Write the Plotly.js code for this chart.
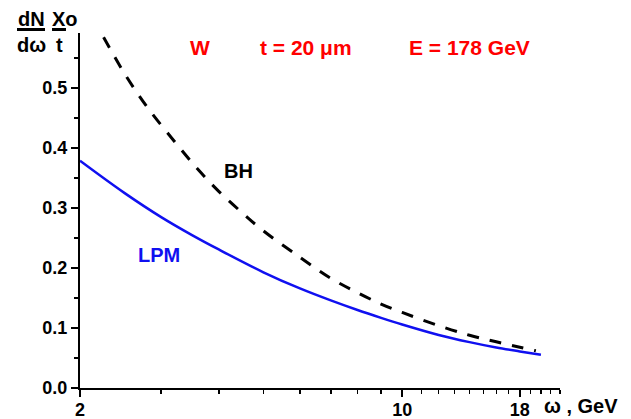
<!DOCTYPE html>
<html>
<head>
<meta charset="utf-8">
<script src="https://cdn.plot.ly/plotly-3.0.1.min.js"></script>
<style>html,body{margin:0;padding:0;background:#fff;}#chart{width:631px;height:419px;}</style>
</head>
<body>
<div id="chart"></div>
<script>
// ω, GeV
const omegaLPM = [2, 2.5, 3, 3.5, 4, 5, 6, 7, 8, 9, 10, 12, 14, 16, 18, 20];
const valLPM   = [0.379, 0.325, 0.285, 0.255, 0.231, 0.193, 0.166, 0.146, 0.130, 0.117, 0.106, 0.0885, 0.0765, 0.0675, 0.061, 0.0555];
const omegaBH  = [2.25, 2.5, 2.8, 3.2, 3.6, 4, 4.5, 5, 6, 7, 8, 9, 10, 12, 14, 16, 18, 19.5];
const valBH    = [0.585, 0.524, 0.468, 0.412, 0.365, 0.328, 0.292, 0.262, 0.218, 0.183, 0.159, 0.140, 0.126, 0.104, 0.088, 0.077, 0.068, 0.062];
const xTickVals = [2, 10, 18];
const xTickText = ['2', '10', '18'];
const xMinorVals = [3,4,5,6,7,8,9,11,12,13,14,15,16,17,19,20,21,22];
const yTickVals = [0, 0.1, 0.2, 0.3, 0.4, 0.5];

const FONT = 'Arial, "Liberation Sans", sans-serif';

const traces = [
  {x: omegaBH, y: valBH, mode: 'lines', type: 'scatter',
   line: {color: '#000000', width: 3, dash: '12px,11px', shape: 'spline'}, hoverinfo: 'skip'},
  {x: omegaLPM, y: valLPM, mode: 'lines', type: 'scatter',
   line: {color: '#1010f0', width: 2.5, shape: 'spline'}, hoverinfo: 'skip'}
];

const layout = {
  width: 631, height: 419,
  margin: {l: 80, r: 71, t: 33, b: 31, pad: 0},
  paper_bgcolor: '#ffffff', plot_bgcolor: '#ffffff',
  showlegend: false,
  font: {family: FONT, size: 18, color: '#000'},
  xaxis: {
    type: 'log', range: [Math.log10(2), Math.log10(22)],
    tickmode: 'array', tickvals: xTickVals, ticktext: xTickText,
    ticks: 'outside', ticklen: 7, tickwidth: 2, tickcolor: '#000',
    ticklabelstandoff: -3,
    minor: {tickmode: 'array', tickvals: xMinorVals, ticks: 'outside', ticklen: 4, tickwidth: 1.5, tickcolor: '#000', showgrid: false},
    showline: true, linecolor: '#000', linewidth: 2, mirror: false,
    showgrid: false, zeroline: false,
    tickfont: {family: FONT, size: 18, color: '#000', weight: 'bold'}
  },
  yaxis: {
    range: [0, 0.592],
    tickmode: 'array', tickvals: yTickVals, tickformat: '.1f',
    ticks: 'outside', ticklen: 7, tickwidth: 2, tickcolor: '#000',
    minor: {dtick: 0.05, ticks: 'outside', ticklen: 4, tickwidth: 1.5, tickcolor: '#000', showgrid: false},
    showline: true, linecolor: '#000', linewidth: 2, mirror: false,
    showgrid: false, zeroline: false,
    tickfont: {family: FONT, size: 18, color: '#000', weight: 'bold'}
  },
  shapes: [
    {type: 'line', xref: 'paper', yref: 'paper', x0: -0.1313, x1: -0.0729, y0: 1.0099, y1: 1.0099,
     line: {color: '#000', width: 3}},
    {type: 'line', xref: 'paper', yref: 'paper', x0: -0.0583, x1: -0.0292, y0: 1.0099, y1: 1.0099,
     line: {color: '#000', width: 3}}
  ],
  annotations: [
    {xref: 'paper', yref: 'paper', x: 0.251, y: 0.958, text: 'W', showarrow: false,
     font: {family: FONT, size: 21, color: '#ff0000', weight: 'bold'}, xanchor: 'center', yanchor: 'middle'},
    {xref: 'paper', yref: 'paper', x: 0.471, y: 0.958, text: 't = 20 \u03bcm', showarrow: false,
     font: {family: FONT, size: 21, color: '#ff0000', weight: 'bold'}, xanchor: 'center', yanchor: 'middle'},
    {xref: 'paper', yref: 'paper', x: 0.812, y: 0.958, text: 'E = 178 GeV', showarrow: false,
     font: {family: FONT, size: 21, color: '#ff0000', weight: 'bold'}, xanchor: 'center', yanchor: 'middle'},
    {xref: 'paper', yref: 'paper', x: 0.331, y: 0.611, text: 'BH', showarrow: false,
     font: {family: FONT, size: 20, color: '#000', weight: 'bold'}, xanchor: 'center', yanchor: 'middle'},
    {xref: 'paper', yref: 'paper', x: 0.164, y: 0.375, text: 'LPM', showarrow: false,
     font: {family: FONT, size: 20, color: '#1010f0', weight: 'bold'}, xanchor: 'center', yanchor: 'middle'},
    {xref: 'paper', yref: 'paper', x: 1.044, y: -0.05, text: '\u03c9 , GeV', showarrow: false,
     font: {family: FONT, size: 20, color: '#000', weight: 'bold'}, xanchor: 'center', yanchor: 'middle'},
    {xref: 'paper', yref: 'paper', x: -0.102, y: 1.04, text: 'dN', showarrow: false,
     font: {family: FONT, size: 20, color: '#000', weight: 'bold'}, xanchor: 'center', yanchor: 'middle'},
    {xref: 'paper', yref: 'paper', x: -0.102, y: 0.966, text: 'd\u03c9', showarrow: false,
     font: {family: FONT, size: 20, color: '#000', weight: 'bold'}, xanchor: 'center', yanchor: 'middle'},
    {xref: 'paper', yref: 'paper', x: -0.031, y: 1.04, text: 'Xo', showarrow: false,
     font: {family: FONT, size: 20, color: '#000', weight: 'bold'}, xanchor: 'center', yanchor: 'middle'},
    {xref: 'paper', yref: 'paper', x: -0.042, y: 0.966, text: 't', showarrow: false,
     font: {family: FONT, size: 20, color: '#000', weight: 'bold'}, xanchor: 'center', yanchor: 'middle'}
  ]
};

Plotly.newPlot('chart', traces, layout, {staticPlot: true, displayModeBar: false});
</script>
</body>
</html>
